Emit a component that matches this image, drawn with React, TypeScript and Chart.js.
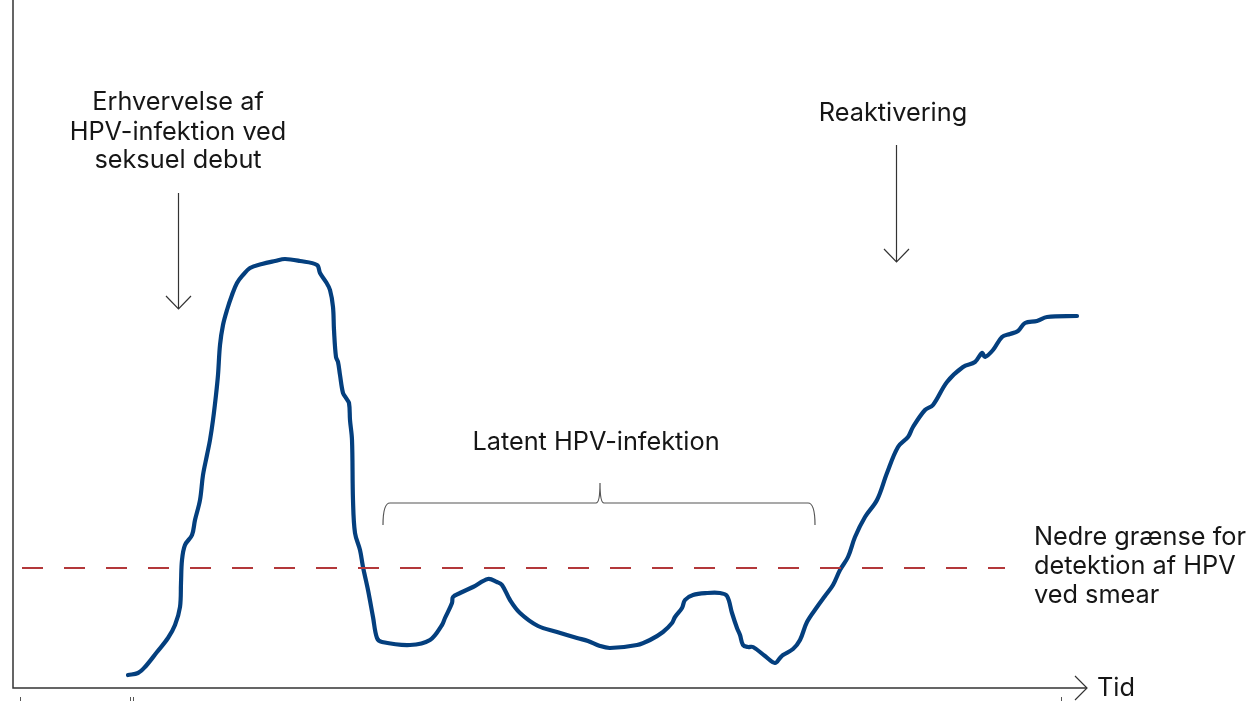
import React, { useEffect, useRef } from "react";
import { Chart, registerables } from "chart.js";

Chart.register(...registerables);

// Time (x) and HPV level (y)
const times = [115,125,132,144,155,162,167,168,169,172,179,182,187,190,194,197,200,203,205,207,210,214,219,224,230,237,249,262,272,287,304,307,313,317,320,321,323,325,327,330,333,336,337,339,340,342,347,350,355,360,364,369,397,417,429,432,439,440,447,460,475,484,489,497,507,525,544,564,575,587,597,624,637,650,659,662,669,672,680,694,707,714,719,724,727,730,735,740,752,762,767,770,780,787,794,804,812,820,827,835,842,852,864,874,885,895,900,912,920,934,950,962,969,972,980,989,997,1005,1012,1024,1034,1064];
const levels = [13,15,21,36,50,63,81,105,128,143,153,168,188,213,233,248,268,293,313,343,363,378,393,405,413,420,424,427,429,427,423,415,406,398,381,358,331,326,313,295,290,285,268,248,188,155,138,121,98,71,50,46,43,48,63,70,85,91,95,101,109,106,103,88,75,62,56,50,47,42,40,43,48,56,65,71,80,88,93,95,95,92,75,60,53,43,41,41,32,25,30,33,39,48,66,81,92,103,118,131,151,171,188,215,241,251,261,278,283,306,321,326,335,331,338,351,354,357,365,367,371,372];

const thresholdLevel = 120;
const thresholdSpan = [9, 992];

const xMin = 0, xMax = 1072;
const yMin = 0, yMax = 688;

const infectionLabel = ["Erhvervelse af", "HPV-infektion ved", "seksuel debut"];
const infectionAt = { t: 165, levels: [586, 556, 528], arrowFrom: 495, arrowTo: 379 };
const reactLabel = "Reaktivering";
const reactAt = { t: 880, level: 575, arrowT: 883, arrowFrom: 543, arrowTo: 426 };
const latentLabel = "Latent HPV-infektion";
const latentAt = { t: 583, level: 246 };
const brace = { left: 370, right: 802, mid: 587, top: 185, bottom: 163, peak: 205 };
const thresholdLabel = ["Nedre grænse for", "detektion af HPV", "ved smear"];
const thresholdLabelAt = { t: 1021, levels: [151, 122, 93] };
const axisLabel = "Tid";
const axisLabelT = 1084;
const axisEndT = 1074;
const tickTimes = [7, 117, 120, 1048];

const FONT = "25.3px Inter, 'Liberation Sans', Arial, sans-serif";
const TEXT = "#161616";

const decorPlugin = {
  id: "decor",
  afterDatasetsDraw(chart: any) {
    const ctx = chart.ctx;
    const xs = chart.scales.x;
    const ys = chart.scales.y;
    const X = (v: number) => xs.getPixelForValue(v);
    const Y = (v: number) => ys.getPixelForValue(v);
    ctx.save();

    // axes
    ctx.strokeStyle = "#333";
    ctx.lineWidth = 1.5;
    ctx.beginPath();
    ctx.moveTo(X(0), Y(yMax));
    ctx.lineTo(X(0), Y(0));
    ctx.lineTo(X(axisEndT), Y(0));
    ctx.stroke();
    ctx.lineWidth = 1.2;
    ctx.beginPath();
    ctx.moveTo(X(axisEndT) - 12, Y(0) - 12);
    ctx.lineTo(X(axisEndT), Y(0));
    ctx.lineTo(X(axisEndT) - 12, Y(0) + 12);
    ctx.stroke();

    // small ticks
    ctx.lineWidth = 1;
    ctx.strokeStyle = "#555";
    tickTimes.forEach((t) => {
      const px = Math.round(X(t)) + 0.5;
      ctx.beginPath();
      ctx.moveTo(px, Y(0) + 9);
      ctx.lineTo(px, Y(0) + 14);
      ctx.stroke();
    });

    // arrows
    const arrow = (t: number, a: number, b: number) => {
      const px = Math.round(X(t)) + 0.5;
      ctx.beginPath();
      ctx.moveTo(px, Y(a));
      ctx.lineTo(px, Y(b));
      ctx.stroke();
      ctx.beginPath();
      ctx.moveTo(px - 12.5, Y(b) - 13);
      ctx.lineTo(px, Y(b));
      ctx.lineTo(px + 12.5, Y(b) - 13);
      ctx.stroke();
    };
    ctx.strokeStyle = "#333";
    ctx.lineWidth = 1.2;
    arrow(infectionAt.t, infectionAt.arrowFrom, infectionAt.arrowTo);
    arrow(reactAt.arrowT, reactAt.arrowFrom, reactAt.arrowTo);

    // brace
    ctx.strokeStyle = "#555";
    ctx.lineWidth = 1.2;
    const L = X(brace.left), R = X(brace.right), M = X(brace.mid);
    const T = Y(brace.top), B = Y(brace.bottom), P = Y(brace.peak);
    ctx.beginPath();
    ctx.moveTo(L, B);
    ctx.quadraticCurveTo(L, T, L + 7, T);
    ctx.lineTo(M - 4, T);
    ctx.quadraticCurveTo(M, T, M, P);
    ctx.quadraticCurveTo(M, T, M + 4, T);
    ctx.lineTo(R - 7, T);
    ctx.quadraticCurveTo(R, T, R, B);
    ctx.stroke();

    // texts
    ctx.fillStyle = TEXT;
    ctx.font = FONT;
    ctx.textBaseline = "middle";
    ctx.textAlign = "center";
    infectionLabel.forEach((s, i) => ctx.fillText(s, X(infectionAt.t), Y(infectionAt.levels[i])));
    ctx.fillText(reactLabel, X(reactAt.t), Y(reactAt.level));
    ctx.fillText(latentLabel, X(latentAt.t), Y(latentAt.level));
    ctx.textAlign = "left";
    thresholdLabel.forEach((s, i) => ctx.fillText(s, X(thresholdLabelAt.t), Y(thresholdLabelAt.levels[i])));
    ctx.fillText(axisLabel, X(axisLabelT), Y(0));

    ctx.restore();
  },
};

export default function App() {
  const ref = useRef<HTMLCanvasElement | null>(null);
  useEffect(() => {
    document.body.style.margin = "0";
    const canvas = ref.current!;
    const chart = new Chart(canvas, {
      type: "line",
      data: {
        datasets: [
          {
            label: "Nedre grænse",
            data: thresholdSpan.map((t) => ({ x: t, y: thresholdLevel })),
            borderColor: "#b3383a",
            borderWidth: 2,
            borderDash: [21, 21],
            pointRadius: 0,
            tension: 0,
          },
          {
            label: "HPV",
            data: times.map((t, i) => ({ x: t, y: levels[i] })),
            borderColor: "#043f7e",
            borderWidth: 4.2,
            pointRadius: 0,
            tension: 0.35,
            borderCapStyle: "round",
            borderJoinStyle: "round",
          },
        ],
      },
      options: {
        responsive: false,
        animation: false,
        events: [],
        layout: { padding: { left: 13, right: 165, top: 0, bottom: 13 } },
        plugins: { legend: { display: false }, tooltip: { enabled: false } },
        scales: {
          x: { type: "linear", min: xMin, max: xMax, display: false },
          y: { type: "linear", min: yMin, max: yMax, display: false },
        },
      },
      plugins: [decorPlugin],
    } as any);
    return () => chart.destroy();
  }, []);
  return (
    <div style={{ width: 1250, height: 701, background: "#fff" }}>
      <canvas ref={ref} width={1250} height={701} style={{ display: "block" }} />
    </div>
  );
}
